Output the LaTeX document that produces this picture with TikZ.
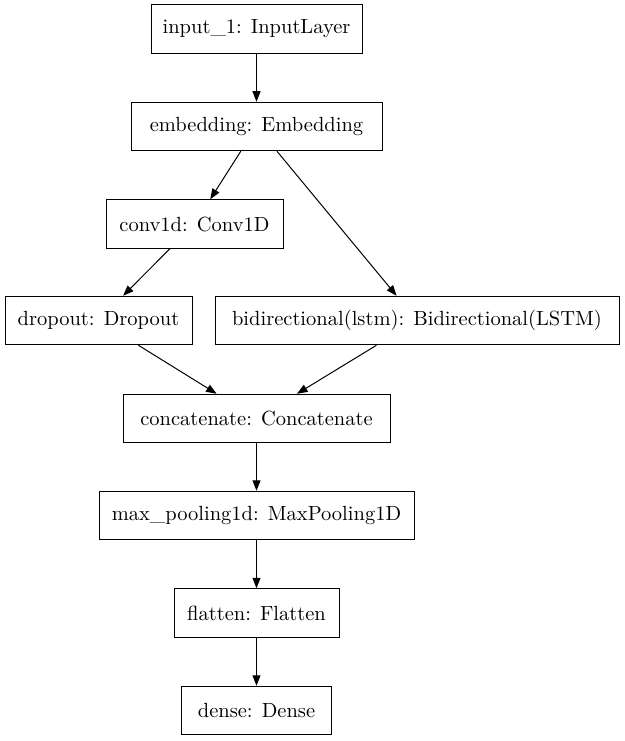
\documentclass[tikz,border=0pt]{standalone}
\usepackage{fontspec}
\setmainfont{lmroman10-regular.otf}
\usetikzlibrary{arrows.meta}
\begin{document}
\begin{tikzpicture}[x=1pt,y=-1pt,
  layer/.style={draw,line width=1pt,inner sep=0pt,minimum height=48.5pt,font=\fontsize{20.5}{24}\selectfont},
  conn/.style={line width=1pt,-{Triangle[length=10.5pt,width=8pt]}}]
\useasboundingbox (0,0) rectangle (624,741);
\node[layer,minimum width=211pt] (in) at (256.5,29) {input\_1: InputLayer};
\node[layer,minimum width=251pt] (emb) at (256.5,126.5) {embedding: Embedding};
\node[layer,minimum width=177pt] (conv) at (194.5,224) {conv1d: Conv1D};
\node[layer,minimum width=187pt] (drop) at (98.5,320.5) {dropout: Dropout};
\node[layer,minimum width=404pt] (bi) at (417,320.5) {bidirectional(lstm): Bidirectional(LSTM)};
\node[layer,minimum width=267pt] (cat) at (256.5,418.5) {concatenate: Concatenate};
\node[layer,minimum width=315pt] (mp) at (256.5,515.5) {max\_pooling1d: MaxPooling1D};
\node[layer,minimum width=165pt] (fl) at (256.5,613) {flatten: Flatten};
\node[layer,minimum width=150pt] (de) at (256.5,710.5) {dense: Dense};
\draw[conn] (in) -- (emb);
\draw[conn] (emb) -- (conv);
\draw[conn] (emb) -- (bi);
\draw[conn] (conv) -- (drop);
\draw[conn] (drop) -- (cat);
\draw[conn] (bi) -- (cat);
\draw[conn] (cat) -- (mp);
\draw[conn] (mp) -- (fl);
\draw[conn] (fl) -- (de);
\end{tikzpicture}
\end{document}
